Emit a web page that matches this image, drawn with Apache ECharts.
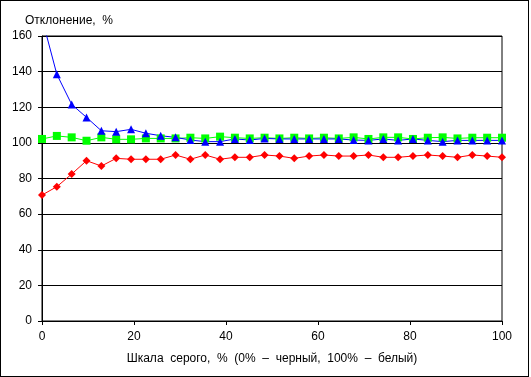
<!DOCTYPE html>
<html>
<head>
<meta charset="utf-8">
<script src="https://cdn.jsdelivr.net/npm/echarts@6/dist/echarts.min.js"></script>
<style>
  html, body { margin: 0; padding: 0; background: #fff; }
  #chart { width: 527px; height: 375px; border: 1px solid #000; }
</style>
</head>
<body>
<div id="chart"></div>
<script>
// шкала серого, 32 точки от 0 до 100 %
var grayLevels = [];
for (var i = 0; i < 32; i++) grayLevels.push(i * 100 / 31);

var blueValues = [170, 138.5, 121.6, 114.3, 106.8, 106.3, 107.6, 105.4, 104, 103.1, 101.6, 100.7,
  100.7, 102.2, 101.6, 102.5, 102.2, 102.2, 102.2, 102.2, 102.2, 101.6, 101.4, 102.2,
  101.4, 102.2, 101.4, 100.7, 101.4, 101.4, 101.4, 101.4];
var greenValues = [102.2, 103.9, 103.1, 101.2, 103.1, 102, 102, 102.5, 102.5, 102.5, 102.9, 102.5,
  103.5, 102.9, 102.5, 102.9, 102.5, 102.9, 102.5, 102.9, 102.5, 103.1, 102.2, 103.1,
  103.1, 102.2, 102.9, 103.1, 102.5, 102.9, 102.9, 102.9];
var redValues = [70.7, 75.4, 82.5, 90, 87, 91.3, 90.8, 90.8, 90.8, 93.2, 90.8, 93.2,
  90.8, 91.9, 91.9, 93.2, 92.6, 91.3, 92.6, 93.2, 92.6, 92.6, 93.2, 91.9,
  91.9, 92.6, 93.2, 92.6, 91.9, 93.2, 92.6, 91.9];

var yTitle = 'Отклонение,  %';
var xTitle = 'Шкала  серого,  %  (0%  –  черный,  100%  –  белый)';

function pairs(vals) {
  return vals.map(function (v, i) { return [grayLevels[i], v]; });
}

var myChart = echarts.init(document.getElementById('chart'));
var font = 'Liberation Sans, Arial, sans-serif';
myChart.setOption({
  animation: false,
  textStyle: { fontFamily: font },
  grid: { left: 41, right: 26, top: 35, bottom: 55, show: true, borderColor: '#000', borderWidth: 1 },
  title: {
    text: yTitle, left: 19, top: 9,
    textStyle: { fontFamily: font, fontSize: 12, fontWeight: 'normal', color: '#000' }
  },
  xAxis: {
    type: 'value', min: 0, max: 100, interval: 20,
    name: xTitle, nameLocation: 'middle', nameGap: 32,
    nameTextStyle: { fontFamily: font, fontSize: 12, color: '#000' },
    axisLine: { lineStyle: { color: '#000' } },
    axisTick: { show: true, length: 4, lineStyle: { color: '#000' } },
    axisLabel: { color: '#000', fontSize: 12, fontFamily: font, margin: 10 },
    splitLine: { show: false }
  },
  yAxis: {
    type: 'value', min: 0, max: 160, interval: 20,
    axisLine: { show: true, lineStyle: { color: '#000' } },
    axisTick: { show: true, length: 4, lineStyle: { color: '#000' } },
    axisLabel: { color: '#000', fontSize: 12, fontFamily: font, margin: 10 },
    splitLine: { show: true, lineStyle: { color: '#000', width: 1 } }
  },
  series: [
    {
      type: 'line', data: pairs(redValues), symbol: 'diamond', symbolSize: 8,
      lineStyle: { color: '#ff0000', width: 1 }, itemStyle: { color: '#ff0000' }
    },
    {
      type: 'line', data: pairs(greenValues), symbol: 'rect', symbolSize: 8,
      lineStyle: { color: '#00ff00', width: 1 }, itemStyle: { color: '#00ff00' }
    },
    {
      type: 'line', data: pairs(blueValues), symbol: 'triangle', symbolSize: 8,
      lineStyle: { color: '#0000ff', width: 1 }, itemStyle: { color: '#0000ff' }
    }
  ]
});
</script>
</body>
</html>
